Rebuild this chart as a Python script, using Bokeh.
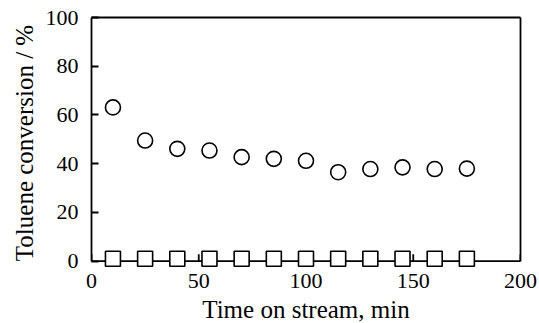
from bokeh.plotting import figure
from bokeh.models import Range1d, FixedTicker, LinearAxis, Span
from bokeh.embed import file_html
from bokeh.resources import INLINE

time_min = [10, 25, 40, 55, 70, 85, 100, 115, 130, 145, 160, 175]
conv_circle = [63.1, 49.5, 46.1, 45.4, 42.7, 42.0, 41.2, 36.5, 37.8, 38.5, 37.8, 38.0]
conv_square = [1.0, 1.0, 1.0, 1.0, 1.0, 1.0, 1.0, 1.0, 1.0, 1.0, 1.0, 1.0]
x_ticks = [0, 50, 100, 150, 200]
y_ticks = [0, 20, 40, 60, 80, 100]

FONT = "Liberation Serif"
PX_PER_UNIT = 2.44
Y_LOW = -3.0
TICK_PX = 7
LW = 1.8

p = figure(frame_width=429, frame_height=int(round((100 - Y_LOW) * PX_PER_UNIT)),
           output_backend="svg", toolbar_location=None,
           x_range=Range1d(0, 200), y_range=Range1d(Y_LOW, 100),
           min_border_left=91, min_border_right=18, min_border_top=17, min_border_bottom=54)
p.background_fill_color = "white"
p.border_fill_color = "white"
p.outline_line_color = None
p.xgrid.visible = False
p.ygrid.visible = False

for ax in (p.xaxis[0], p.yaxis[0]):
    ax.axis_line_width = LW
    ax.major_tick_in = TICK_PX
    ax.major_tick_out = 0
    ax.minor_tick_in = 0
    ax.minor_tick_out = 0
    ax.major_tick_line_width = LW
    ax.major_label_text_font = FONT
    ax.major_label_text_font_size = "22px"
    ax.major_label_text_color = "black"
    ax.axis_label_text_font = FONT
    ax.axis_label_text_font_size = "25px"
    ax.axis_label_text_font_style = "normal"
    ax.axis_label_text_color = "black"

p.xaxis.ticker = FixedTicker(ticks=x_ticks)
p.yaxis.ticker = FixedTicker(ticks=y_ticks)
p.yaxis.bounds = (0, 100)
# bottom axis keeps labels; its line and ticks are drawn at y = 0 below
p.xaxis.axis_line_color = None
p.xaxis.major_tick_line_color = None
p.xaxis.axis_label = "Time on stream, min"
p.yaxis.axis_label = "Toluene conversion / %"
p.xaxis.major_label_standoff = 5
p.yaxis.major_label_standoff = 13
p.xaxis.axis_label_standoff = 5
p.yaxis.axis_label_standoff = 5

# frame edges (top and right)
right_ax = LinearAxis(bounds=(0, 100), axis_line_width=LW, ticker=FixedTicker(ticks=[]),
                      major_tick_line_color=None, minor_tick_line_color=None)
top_ax = LinearAxis(axis_line_width=LW, ticker=FixedTicker(ticks=[]),
                    major_tick_line_color=None, minor_tick_line_color=None)
p.add_layout(right_ax, "right")
p.add_layout(top_ax, "above")

# x axis line at y = 0 and inward ticks
p.add_layout(Span(location=0, dimension="width", line_color="black", line_width=LW))
p.segment(x0=x_ticks, y0=[0] * len(x_ticks), x1=x_ticks,
          y1=[TICK_PX / PX_PER_UNIT] * len(x_ticks), line_color="black", line_width=LW)

p.scatter(time_min, conv_square, marker="square", size=15, fill_color="white",
          line_color="black", line_width=1.6, level="overlay")
p.scatter(time_min, conv_circle, marker="circle", size=15, fill_color="white",
          line_color="black", line_width=1.6, level="overlay")

open("out.html", "w").write(file_html(p, INLINE))
